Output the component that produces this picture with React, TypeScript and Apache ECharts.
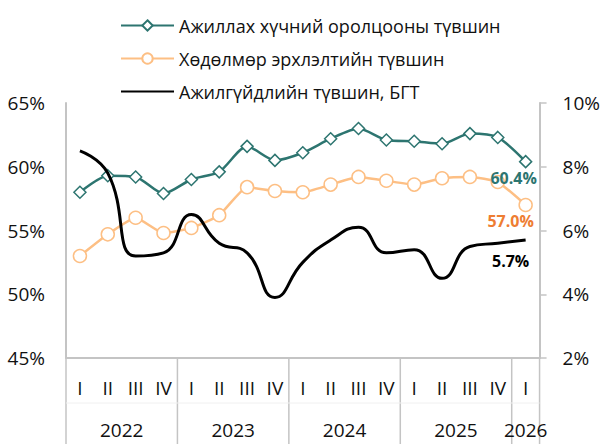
import React, { useEffect, useRef } from "react";
import * as echarts from "echarts";

const quarters = ["I", "II", "III", "IV", "I", "II", "III", "IV", "I", "II", "III", "IV", "I", "II", "III", "IV", "I"];
const years = ["2022", "2023", "2024", "2025", "2026"];
const yearStart = [0, 4, 8, 12, 16];
const yearLen = [4, 4, 4, 4, 1];

const seriesNames = [
  "Ажиллах хүчний оролцооны түвшин",
  "Хөдөлмөр эрхлэлтийн түвшин",
  "Ажилгүйдлийн түвшин, БГТ",
];
const participation = [58.0, 59.3, 59.2, 57.9, 59.0, 59.6, 61.6, 60.5, 61.1, 62.2, 63.0, 62.1, 62.0, 61.8, 62.6, 62.3, 60.4];
const employment = [53.0, 54.7, 56.0, 54.8, 55.2, 56.2, 58.4, 58.1, 58.0, 58.6, 59.2, 58.9, 58.6, 59.1, 59.2, 58.8, 57.0];
const unemployment = [8.5, 7.8, 5.2, 5.3, 6.5, 5.6, 5.3, 3.9, 5.0, 5.7, 6.1, 5.3, 5.4, 4.5, 5.5, 5.6, 5.7];

const leftMin = 45, leftMax = 65, leftStep = 5;
const rightMin = 2, rightMax = 10, rightStep = 2;

const TEAL = "#2d7570";
const ORANGE_LINE = "#fdbf84";
const ORANGE_LABEL = "#ee7d32";
const GRAY = "#c4c4c4";
const FONT = "Open Sans";

function withLastLabel(values: number[], color: string, offset: number[]) {
  return values.map((v, i) =>
    i === values.length - 1
      ? {
          value: v,
          label: {
            show: true,
            position: "inside",
            offset,
            formatter: (p: any) => p.value.toFixed(1) + "%",
            color,
            fontFamily: FONT,
            fontWeight: "bold",
            fontSize: 16,
          },
        }
      : v
  );
}

export default function App() {
  const ref = useRef<HTMLDivElement>(null);
  useEffect(() => {
    const chart = echarts.init(ref.current!, null, { renderer: "svg" });
    const option: any = {
      animation: false,
      backgroundColor: "#ffffff",
      textStyle: { fontFamily: FONT },
      legend: {
        orient: "vertical",
        left: 115,
        top: 10,
        itemWidth: 53,
        itemHeight: 13,
        itemGap: 12,
        data: [
          { name: seriesNames[0] },
          { name: seriesNames[1] },
          { name: seriesNames[2], itemStyle: { opacity: 0 } },
        ],
        textStyle: { fontFamily: FONT, fontSize: 18, color: "#111111", lineHeight: 21 },
      },
      grid: { left: 66, right: 63, top: 103, bottom: 86, containLabel: false },
      xAxis: {
        type: "category",
        data: quarters,
        boundaryGap: true,
        axisLine: { show: true, lineStyle: { color: GRAY, width: 2 } },
        axisTick: { show: false },
        axisLabel: { interval: 0, margin: 20, fontFamily: FONT, fontSize: 19, color: "#111111" },
        splitLine: { show: false },
      },
      yAxis: [
        {
          type: "value",
          min: leftMin,
          max: leftMax,
          interval: leftStep,
          axisLine: { show: true, lineStyle: { color: GRAY, width: 2 } },
          axisTick: { show: false },
          splitLine: { show: false },
          axisLabel: { margin: 21, fontFamily: FONT, fontSize: 19, color: "#111111", formatter: (v: number) => v + "%" },
        },
        {
          type: "value",
          min: rightMin,
          max: rightMax,
          interval: rightStep,
          position: "right",
          axisLine: { show: true, lineStyle: { color: GRAY, width: 2 } },
          axisTick: { show: true, length: 7, lineStyle: { color: GRAY, width: 1.5 } },
          splitLine: { show: false },
          axisLabel: { margin: 23, fontFamily: FONT, fontSize: 19, color: "#111111", formatter: (v: number) => v + "%" },
        },
      ],
      series: [
        {
          name: seriesNames[0],
          type: "line",
          yAxisIndex: 0,
          data: withLastLabel(participation, TEAL, [-12, 16]),
          smooth: 0.25,
          symbol: "diamond",
          symbolSize: 12,
          lineStyle: { color: TEAL, width: 2.5 },
          itemStyle: { color: "#ffffff", borderColor: TEAL, borderWidth: 1.5 },
          z: 3,
        },
        {
          name: seriesNames[1],
          type: "line",
          yAxisIndex: 0,
          data: withLastLabel(employment, ORANGE_LABEL, [-15, 16]),
          smooth: 0.15,
          symbol: "circle",
          symbolSize: 13,
          lineStyle: { color: ORANGE_LINE, width: 2.5 },
          itemStyle: { color: "#ffffff", borderColor: ORANGE_LINE, borderWidth: 1.5 },
          z: 2,
        },
        {
          name: seriesNames[2],
          type: "line",
          yAxisIndex: 1,
          data: unemployment,
          smooth: 0.5,
          symbol: "none",
          lineStyle: { color: "#000000", width: 3 },
          itemStyle: { color: "#000000" },
          endLabel: {
            show: true,
            align: "center",
            verticalAlign: "middle",
            distance: 0,
            offset: [-15, 21],
            formatter: (p: any) => Number(p.value).toFixed(1) + "%",
            color: "#000000",
            fontFamily: FONT,
            fontWeight: "bold",
            fontSize: 16,
          },
          z: 4,
        },
      ],
    };
    chart.setOption(option);

    const px = (i: number) => chart.convertToPixel({ xAxisIndex: 0 }, i) as number;
    const band = px(1) - px(0);
    const yBottom = chart.convertToPixel({ yAxisIndex: 0 }, leftMin) as number;
    const x0 = px(0) - band / 2;
    const x1 = px(quarters.length - 1) + band / 2;
    const graphics: any[] = [];
    const bounds = [...yearStart, quarters.length];
    bounds.forEach((b) => {
      const x = px(0) + (b - 0.5) * band;
      graphics.push({
        type: "line",
        shape: { x1: x, y1: yBottom, x2: x, y2: 444 },
        style: { stroke: GRAY, lineWidth: 1.5 },
        silent: true,
      });
    });
    graphics.push({
      type: "line",
      shape: { x1: x0, y1: 403, x2: x1, y2: 403 },
      style: { stroke: "#f0f0f0", lineWidth: 1 },
      silent: true,
    });
    years.forEach((y, k) => {
      const cx = px(yearStart[k]) + ((yearLen[k] - 1) / 2) * band;
      graphics.push({
        type: "text",
        x: cx,
        y: 430,
        style: { text: y, fontFamily: FONT, fontSize: 19, fill: "#111111", align: "center", verticalAlign: "middle" },
        silent: true,
      });
    });
    chart.setOption({ graphic: graphics });

    return () => chart.dispose();
  }, []);
  return <div ref={ref} style={{ position: "fixed", left: 0, top: 0, width: 603, height: 444 }} />;
}
